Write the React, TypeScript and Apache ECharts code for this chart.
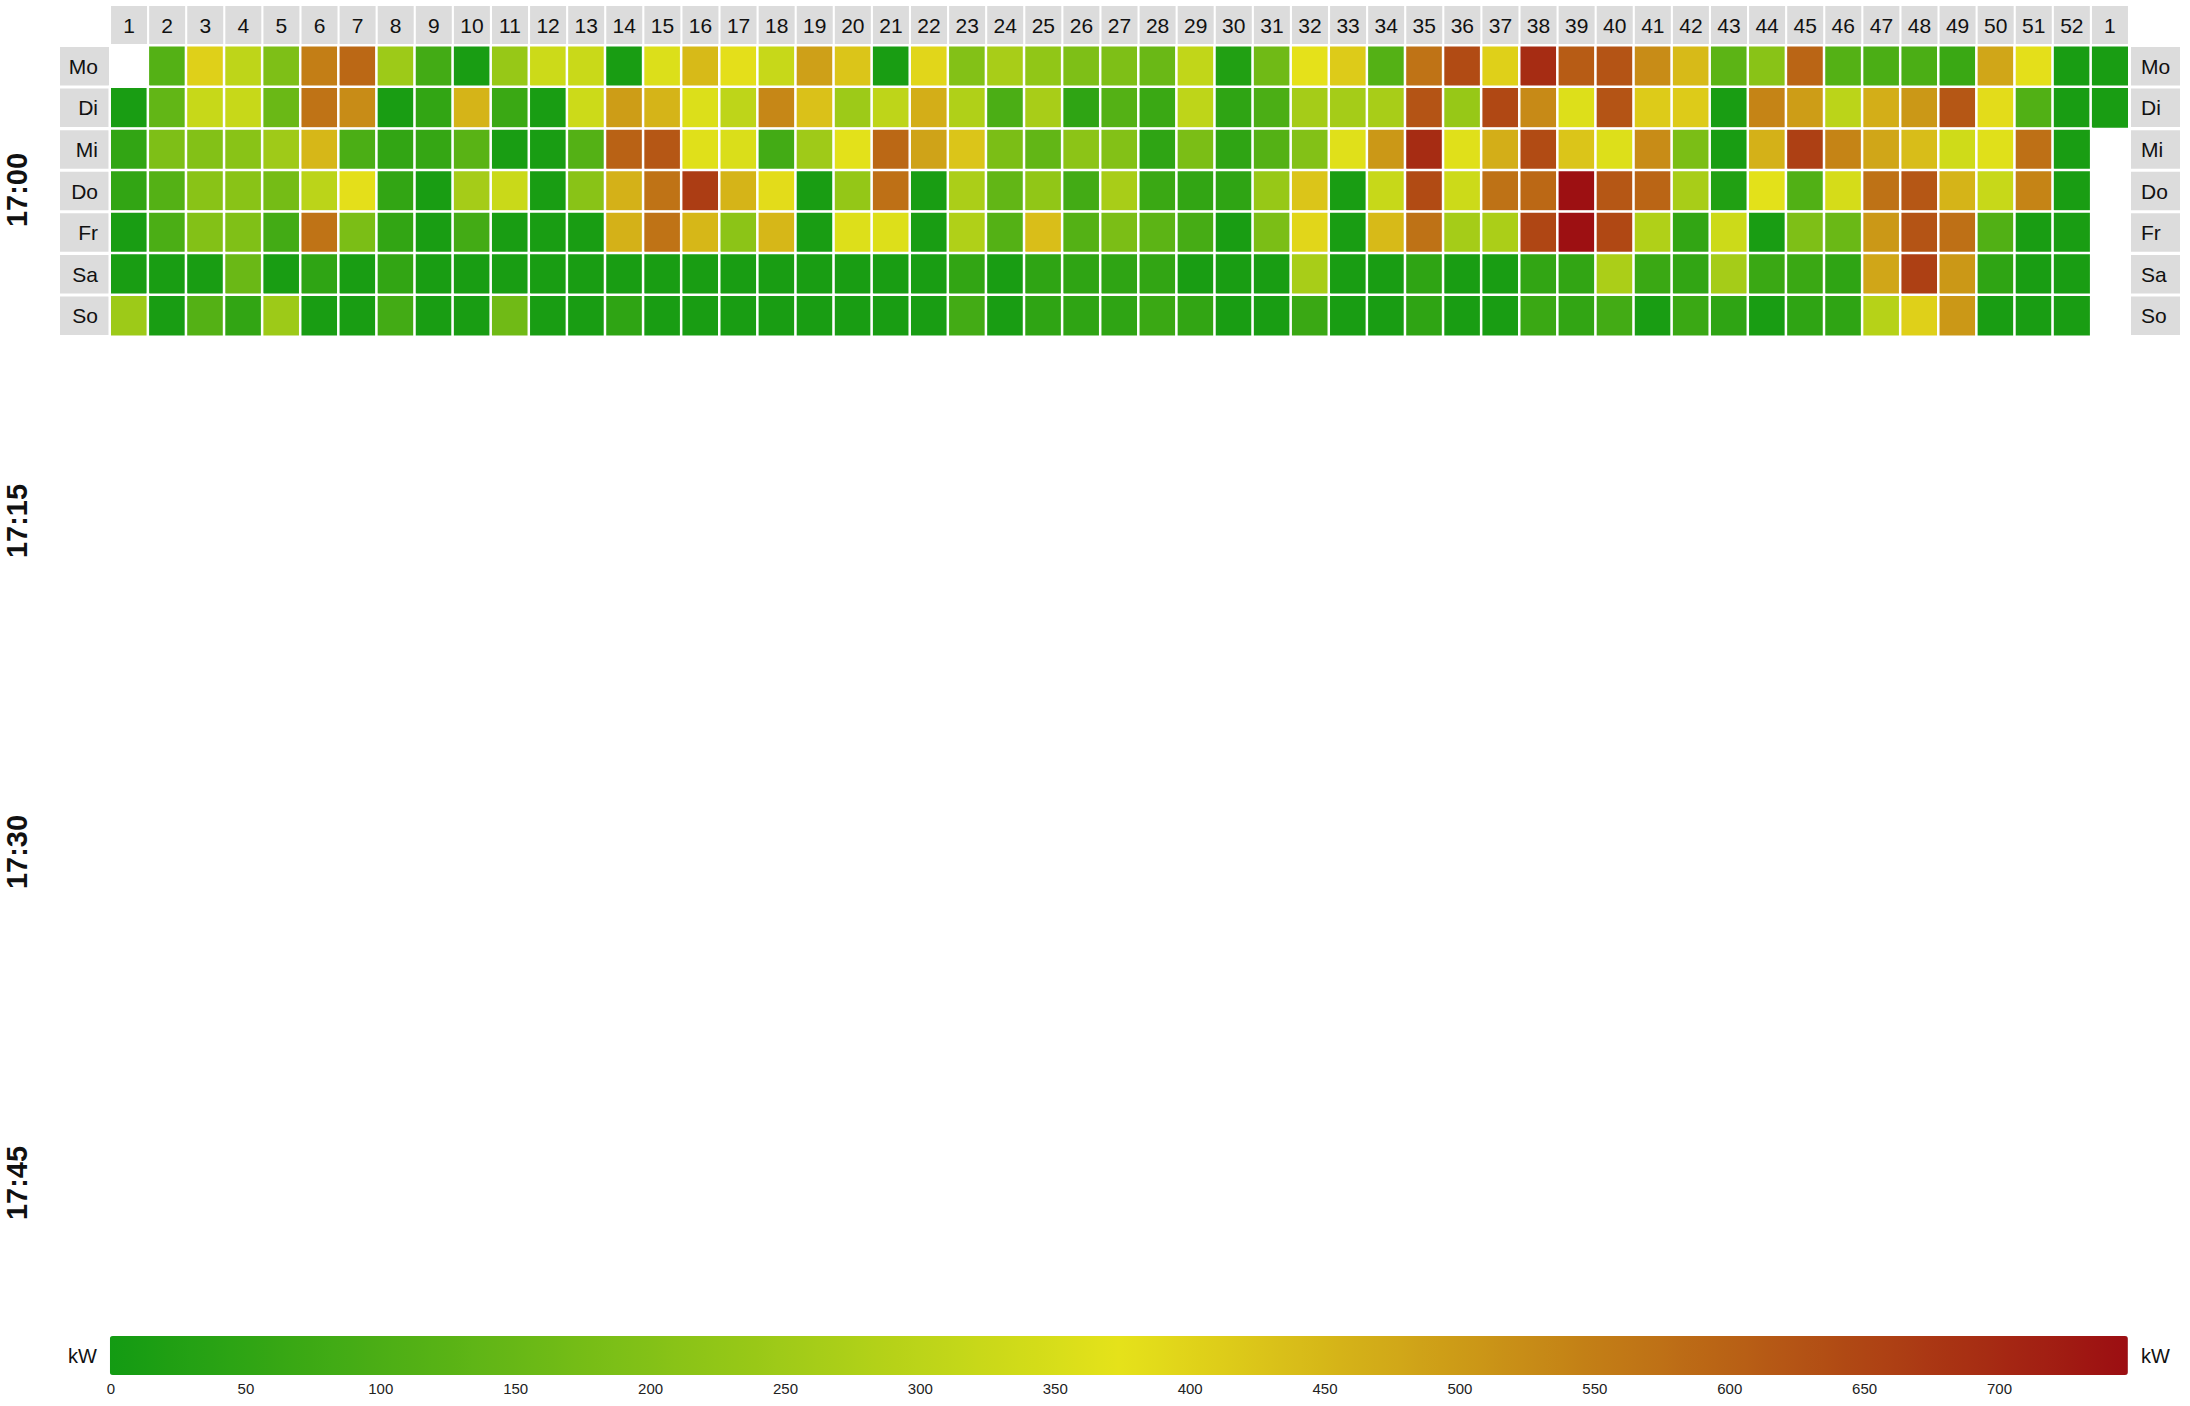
import React, { useEffect, useRef } from 'react';
import * as echarts from 'echarts';

const weekLabels = ['1','2','3','4','5','6','7','8','9','10','11','12','13','14','15','16','17','18','19','20','21','22','23','24','25','26','27','28','29','30','31','32','33','34','35','36','37','38','39','40','41','42','43','44','45','46','47','48','49','50','51','52','1'];
const days = ['Mo', 'Di', 'Mi', 'Do', 'Fr', 'Sa', 'So'];
const timeSlots = ['17:00', '17:15', '17:30', '17:45'];
const unitLabel = 'kW';
const scaleMin = 0;
const scaleMax = 748;
const scaleStep = 50;
const rampColors = ['#139b13', '#e5e21a', '#9c0e12'];

const mo = [null,115,405,305,190,550,590,245,85,10,235,330,325,10,358,445,380,320,490,425,10,395,200,265,225,190,190,155,310,25,165,375,415,115,570,640,405,695,610,625,525,445,130,210,595,115,100,100,70,480,380,10,10];
const di = [10,140,320,320,155,570,525,10,55,455,70,10,330,495,455,358,305,535,432,245,305,465,280,100,265,50,115,70,305,50,100,260,260,265,625,235,645,530,360,625,415,415,10,540,495,300,465,505,620,385,110,10,10];
const mi = [55,190,200,210,250,450,100,55,60,125,10,10,115,600,620,365,355,85,250,370,590,485,425,185,140,215,200,50,185,50,115,200,365,505,695,365,465,640,425,360,525,185,10,460,660,540,480,440,335,365,575,10,null];
const dn = [55,115,210,210,175,300,380,55,10,260,325,10,210,460,570,665,455,385,10,230,575,10,270,140,225,85,265,70,55,50,235,425,10,320,640,330,572,590,745,620,595,265,25,370,110,345,572,620,455,320,540,10,null];
const fr = [10,100,200,195,85,570,185,55,10,85,10,10,10,460,570,450,215,450,10,360,360,10,280,115,438,115,185,130,90,10,185,395,10,445,572,260,270,650,745,645,280,55,330,10,190,155,505,625,575,110,10,10,null];
const sa = [10,10,10,155,10,50,10,55,10,10,10,10,10,10,10,10,10,10,10,10,10,10,55,10,50,50,50,55,10,10,10,265,10,10,50,10,10,55,55,270,70,55,260,70,70,50,480,660,505,50,10,10,null];
const so = [245,10,115,55,245,10,10,85,10,10,165,10,10,50,10,10,10,10,10,10,10,10,85,10,50,50,50,70,55,10,10,70,10,10,50,10,10,70,55,85,10,70,50,10,50,50,290,405,505,10,10,10,null];
const dayRows = [mo, di, mi, dn, fr, sa, so];

export default function App() {
  const ref = useRef<HTMLDivElement>(null);
  useEffect(() => {
    const chart = echarts.init(ref.current as HTMLDivElement, null, { renderer: 'svg' });
    const data: any[] = [];
    dayRows.forEach((row, d) => {
      row.forEach((v, w) => {
        if (v !== null) data.push([w, d, v]);
      });
    });
    const font = '"Liberation Sans", Arial, sans-serif';
    const hidden = { show: false };
    chart.setOption({
      animation: false,
      grid: [
        { left: 110, top: 45.5, width: 2019, height: 291 },
        { left: 111, top: 1374, width: 2018, height: 1 },
      ],
      xAxis: [
        {
          type: 'category', data: weekLabels, position: 'top', gridIndex: 0,
          axisLine: hidden, axisTick: hidden, splitLine: hidden,
          axisLabel: {
            interval: 0, margin: 1.5, backgroundColor: '#dcdcdc', width: 36, height: 38, lineHeight: 38,
            align: 'center', fontSize: 21, fontFamily: font, color: '#111',
          },
        },
        {
          type: 'value', gridIndex: 1, min: scaleMin, max: scaleMax, interval: scaleStep,
          axisLine: hidden, axisTick: hidden, splitLine: hidden,
          axisLabel: { showMaxLabel: false, fontSize: 15, margin: 6, fontFamily: font, color: '#222' },
        },
      ],
      yAxis: [
        {
          type: 'category', data: days, inverse: true, gridIndex: 0, position: 'left',
          axisLine: hidden, axisTick: hidden, splitLine: hidden,
          axisLabel: {
            interval: 0, margin: 1, backgroundColor: '#dcdcdc', width: 38, height: 38.5, lineHeight: 38.5,
            padding: [0, 11, 0, 0], align: 'right', fontSize: 21, fontFamily: font, color: '#111',
          },
        },
        {
          type: 'category', data: days, inverse: true, gridIndex: 0, position: 'right',
          axisLine: hidden, axisTick: hidden, splitLine: hidden,
          axisLabel: {
            interval: 0, margin: 2, backgroundColor: '#dcdcdc', width: 39, height: 38.5, lineHeight: 38.5,
            padding: [0, 0, 0, 10], align: 'left', fontSize: 21, fontFamily: font, color: '#111',
          },
        },
        { type: 'value', gridIndex: 1, show: false, min: 0, max: 1 },
      ],
      visualMap: {
        type: 'continuous', min: scaleMin, max: scaleMax, seriesIndex: 0, dimension: 2,
        orient: 'horizontal', calculable: false, hoverLink: false,
        left: 68, top: 1336, itemWidth: 39, itemHeight: 2018, padding: 0,
        text: [unitLabel, unitLabel], textGap: 13,
        textStyle: { fontSize: 20, fontFamily: font, color: '#111' },
        inRange: { color: rampColors },
      },
      series: [
        {
          type: 'heatmap', xAxisIndex: 0, yAxisIndex: 0, data,
          itemStyle: { borderColor: '#ffffff', borderWidth: 2.5 },
          emphasis: { disabled: true },
        },
      ],
      graphic: timeSlots.map((t, i) => ({
        type: 'text', x: 17, y: 190 + i * 331, rotation: Math.PI / 2,
        style: {
          text: t, font: 'bold 29px "Liberation Sans", Arial, sans-serif', fill: '#111',
          textAlign: 'center', textVerticalAlign: 'middle',
        },
      })),
    });
    return () => chart.dispose();
  }, []);
  return <div ref={ref} style={{ position: 'absolute', left: 0, top: 0, width: 2190, height: 1406 }} />;
}
